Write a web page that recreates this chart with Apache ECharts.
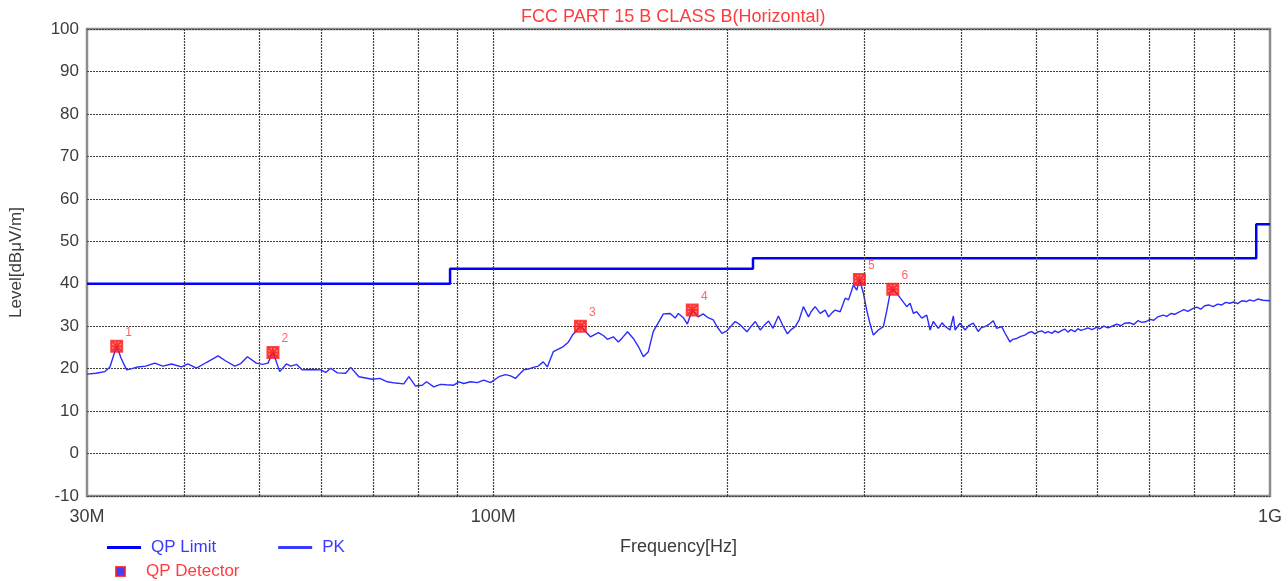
<!DOCTYPE html>
<html>
<head>
<meta charset="utf-8">
<script src="https://cdn.jsdelivr.net/npm/echarts@6/dist/echarts.min.js"></script>
<style>
html,body{margin:0;padding:0;background:#fff;}
#chart{width:1288px;height:581px;}
</style>
</head>
<body>
<div id="chart"></div>
<script>
// ---- data (frequency in MHz, level in dBuV/m) ----
const titleText = 'FCC PART 15 B CLASS B(Horizontal)';
const xTickValues = [30, 100, 1000];
const xTickNames = ['30M', '100M', '1G'];
const gridFreqs = [40, 50, 60, 70, 80, 90, 100, 200, 300, 400, 500, 600, 700, 800, 900];

const limitFreq = [30, 88, 216, 960, 1000];
const limitLevel = [40, 43.5, 46, 54, 54];

const qpFreq = [32.76, 52.06, 129.5, 180.4, 296.1, 326.9];
const qpLevel = [25.3, 23.8, 30.0, 33.8, 41.0, 38.7];
const qpLabels = ['1', '2', '3', '4', '5', '6'];

const pkFreq = [30.0, 30.8, 31.64, 32.11, 32.76, 33.18, 33.74, 34.28, 34.88, 35.71, 36.68, 37.56, 38.54, 39.70, 40.45, 41.50, 42.78, 44.24, 45.27, 46.49, 47.32, 48.27, 49.56, 50.50, 51.30, 52.06, 53.11, 54.18, 54.87, 55.86, 56.80, 58.22, 59.97, 60.86, 61.77, 63.01, 64.58, 65.55, 67.17, 68.52, 69.88, 71.48, 73.05, 74.87, 76.73, 77.88, 79.45, 81.03, 82.07, 83.87, 85.55, 87.08, 88.99, 90.32, 91.66, 93.50, 95.38, 97.25, 99.21, 101.7, 103.7, 105.3, 106.8, 109.4, 111.0, 112.6, 114.3, 116.0, 117.4, 119.5, 121.3, 123.1, 124.9, 126.5, 128.0, 129.5, 131.4, 133.4, 136.6, 138.6, 140.3, 142.8, 144.9, 146.7, 148.9, 151.5, 153.8, 156.1, 158.4, 160.7, 163.1, 165.6, 169.0, 171.5, 173.1, 175.7, 177.8, 180.4, 183.6, 186.3, 189.1, 192.0, 194.3, 197.0, 199.9, 201.9, 204.9, 208.0, 212.2, 214.9, 217.5, 220.7, 223.3, 226.2, 229.2, 232.9, 236.2, 239.2, 241.9, 244.8, 247.7, 250.8, 254.6, 256.6, 259.7, 263.6, 267.5, 270.2, 273.1, 275.6, 279.7, 283.9, 286.7, 290.9, 293.8, 296.1, 299.6, 302.6, 305.6, 308.6, 313.2, 317.9, 321.0, 324.3, 326.9, 331.1, 335.7, 340.7, 344.1, 347.5, 351.0, 356.2, 361.5, 365.1, 368.6, 374.1, 378.3, 381.6, 387.3, 391.2, 393.1, 399.0, 404.9, 409.8, 415.0, 421.2, 424.6, 429.6, 434.7, 440.3, 444.7, 451.4, 455.8, 462.6, 466.7, 471.9, 477.9, 483.6, 487.9, 493.3, 498.2, 503.1, 508.6, 513.1, 518.2, 523.9, 528.6, 533.8, 539.7, 544.5, 549.4, 554.3, 560.8, 565.8, 570.9, 577.7, 582.9, 589.8, 598.0, 603.9, 611.1, 618.4, 628.2, 635.1, 642.7, 650.3, 660.1, 667.9, 675.8, 684.0, 693.5, 700.4, 708.7, 717.1, 728.5, 736.5, 745.3, 754.2, 765.4, 774.5, 783.8, 796.2, 804.9, 814.5, 824.2, 834.0, 844.8, 856.6, 866.9, 877.1, 887.6, 898.2, 908.8, 919.8, 932.6, 941.8, 952.9, 964.2, 979.5, 1000];
const pkLevel = [18.7, 18.9, 19.3, 20.4, 25.4, 22.5, 19.7, 20.0, 20.4, 20.6, 21.3, 20.6, 21.1, 20.4, 21.1, 20.1, 21.5, 23.0, 21.8, 20.6, 21.2, 22.8, 21.3, 21.0, 21.3, 24.0, 19.3, 21.1, 20.6, 21.0, 19.7, 19.8, 19.7, 19.1, 20.1, 19.0, 18.9, 20.3, 18.1, 17.8, 17.5, 17.7, 16.9, 16.6, 16.4, 18.1, 15.9, 16.1, 16.9, 15.7, 16.3, 16.2, 16.1, 16.9, 16.5, 16.9, 16.7, 17.3, 16.7, 18.1, 18.6, 18.3, 17.7, 19.7, 19.9, 20.3, 20.6, 21.6, 20.4, 24.0, 24.6, 25.2, 26.2, 27.9, 28.9, 30.0, 28.8, 27.5, 28.5, 27.8, 26.9, 27.5, 26.3, 27.3, 28.7, 27.1, 25.2, 22.8, 24.0, 28.7, 30.8, 32.9, 33.0, 31.9, 33.0, 32.0, 30.5, 33.8, 32.2, 32.9, 32.0, 31.5, 29.8, 28.3, 28.9, 29.8, 31.1, 30.3, 28.7, 30.0, 31.1, 29.1, 30.2, 31.2, 29.5, 32.4, 30.0, 28.2, 29.2, 29.9, 31.5, 34.6, 32.2, 33.4, 34.6, 33.0, 33.8, 32.2, 33.2, 33.8, 33.4, 36.6, 36.2, 39.7, 38.5, 41.0, 37.8, 33.8, 30.5, 27.9, 29.1, 29.9, 33.5, 37.8, 38.7, 37.6, 36.2, 34.6, 35.4, 33.0, 33.4, 31.9, 32.6, 29.1, 31.1, 29.5, 30.8, 30.0, 29.1, 32.4, 29.1, 30.7, 29.1, 30.2, 30.7, 28.7, 29.6, 29.9, 30.4, 31.3, 29.5, 29.9, 28.4, 26.3, 26.9, 27.1, 27.6, 27.9, 28.4, 28.7, 28.2, 28.7, 28.9, 28.4, 28.7, 28.3, 28.9, 28.5, 29.0, 29.3, 28.6, 29.2, 28.7, 29.4, 29.0, 29.3, 29.6, 29.2, 29.7, 29.4, 30.0, 29.6, 30.1, 30.5, 30.1, 30.7, 30.8, 30.4, 31.3, 30.9, 31.1, 31.6, 31.4, 32.2, 32.6, 32.3, 33.0, 32.8, 33.4, 33.9, 33.5, 34.2, 34.5, 34.0, 34.8, 35.0, 34.6, 35.2, 35.0, 35.6, 35.4, 35.7, 35.3, 36.0, 35.8, 36.2, 35.9, 36.4, 36.1, 36.0];

// ---- build ----
const zip = (a, b) => a.map((v, i) => [v, b[i]]);
const FONT = '"Liberation Sans", Arial, sans-serif';
const TXT = '#3c3c3c';
const BLUE_TXT = '#3a3aff';
const RED_TXT = '#ff3c3c';
const markerPath = 'path://M0,0L10,0L10,10L0,10Z M0,0L10,10 M10,0L0,10 M5,0L5,10 M0,5L10,5';

const chart = echarts.init(document.getElementById('chart'), null, {renderer: 'canvas'});
chart.setOption({
  animation: false,
  backgroundColor: '#ffffff',
  title: {
    text: titleText,
    left: 516, top: 3,
    textStyle: {color: RED_TXT, fontSize: 18, fontWeight: 'normal', fontFamily: FONT}
  },
  grid: {
    left: 86, top: 29, right: 18, bottom: 85,
    show: true, borderColor: '#8c8c8c', borderWidth: 2.5, backgroundColor: '#ffffff'
  },
  legend: [
    {
      id: 'legLines',
      data: [{name: 'QP Limit'}, {name: 'PK'}],
      left: 102, top: 534,
      orient: 'horizontal',
      icon: 'rect',
      itemWidth: 34, itemHeight: 3, itemGap: 62,
      textStyle: {color: BLUE_TXT, fontSize: 17, fontFamily: FONT, padding: [0, 0, 0, 5]},
      selectedMode: false
    },
    {
      id: 'legQP',
      data: [{name: 'QP Detector', icon: 'rect', itemStyle: {color: '#1010ff'}}],
      left: 110, top: 558,
      orient: 'horizontal',
      itemWidth: 9, itemHeight: 9,
      textStyle: {color: RED_TXT, fontSize: 17, fontFamily: FONT, padding: [0, 0, 0, 16]},
      selectedMode: false
    }
  ],
  xAxis: {
    type: 'log', logBase: 10, min: 30, max: 1000,
    name: 'Frequency[Hz]', nameLocation: 'middle', nameGap: 42,
    nameTextStyle: {color: TXT, fontSize: 18, fontFamily: FONT},
    axisLine: {show: false},
    axisTick: {show: false},
    splitLine: {show: false},
    axisLabel: {
      show: true, showMinLabel: true, showMaxLabel: true,
      color: TXT, fontSize: 18, fontFamily: FONT, margin: 12,
      formatter: function (v) {
        let best = 0;
        for (let i = 0; i < xTickValues.length; i++) {
          if (Math.abs(Math.log10(xTickValues[i]) - Math.log10(v)) < Math.abs(Math.log10(xTickValues[best]) - Math.log10(v))) best = i;
        }
        return Math.abs(Math.log10(xTickValues[best]) - Math.log10(v)) < 0.01 ? xTickNames[best] : '';
      }
    }
  },
  yAxis: {
    type: 'value', min: -10, max: 100, interval: 10,
    name: 'Level[dBμV/m]', nameLocation: 'middle', nameGap: 62, nameRotate: 90,
    nameTextStyle: {color: TXT, fontSize: 17, fontFamily: FONT},
    axisLine: {show: false},
    axisTick: {show: false},
    axisLabel: {color: TXT, fontSize: 17, fontFamily: FONT, margin: 8},
    splitLine: {show: true, lineStyle: {color: '#404040', width: 1, type: [2, 1]}}
  },
  series: [
    {
      name: 'vgrid', type: 'line', data: [], silent: true, z: 1,
      markLine: {
        silent: true, symbol: ['none', 'none'], label: {show: false},
        lineStyle: {color: '#404040', width: 1.2, type: [2, 1]},
        data: gridFreqs.map(f => ({xAxis: f}))
      }
    },
    {
      name: 'QP Limit', type: 'line', step: 'end',
      data: zip(limitFreq, limitLevel),
      symbol: 'none', z: 3,
      lineStyle: {color: '#0000ff', width: 2.5},
      itemStyle: {color: '#0000ff'}
    },
    {
      name: 'PK', type: 'line',
      data: zip(pkFreq, pkLevel),
      symbol: 'none', z: 4,
      lineStyle: {color: '#2b2bff', width: 1.4},
      itemStyle: {color: '#3a3aff'}
    },
    {
      name: 'QP Detector', type: 'scatter', z: 5,
      data: zip(qpFreq, qpLevel),
      symbol: markerPath, symbolSize: 11,
      itemStyle: {color: 'rgba(255,30,30,0.6)', borderColor: '#ff1a1a', borderWidth: 2},
      label: {
        show: true, position: 'top', distance: 5, offset: [12, 4],
        color: RED_TXT, fontSize: 12, fontFamily: FONT,
        formatter: p => qpLabels[p.dataIndex]
      }
    }
  ]
});
</script>
</body>
</html>
